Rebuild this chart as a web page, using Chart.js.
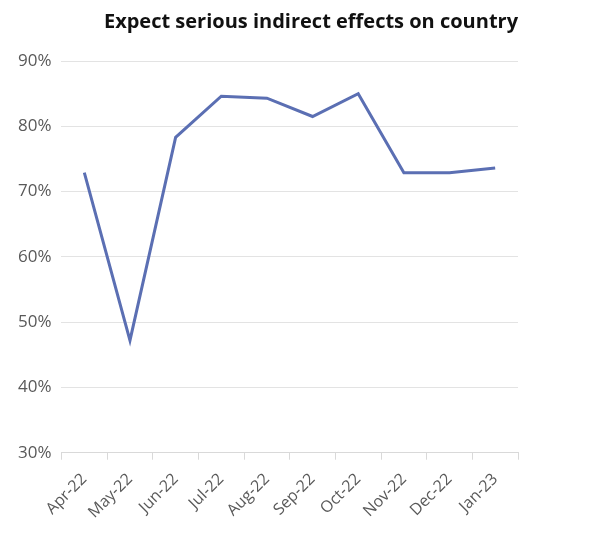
<!DOCTYPE html>
<html>
<head>
<meta charset="utf-8">
<script src="https://cdn.jsdelivr.net/npm/chart.js@4"></script>
<style>
  html, body { margin: 0; padding: 0; background: #fff; }
  #wrap { width: 614px; height: 536px; }
</style>
</head>
<body>
<div id="wrap"><canvas id="chart"></canvas></div>
<script>
const months = ['Apr-22', 'May-22', 'Jun-22', 'Jul-22', 'Aug-22', 'Sep-22', 'Oct-22', 'Nov-22', 'Dec-22', 'Jan-23'];
const seriousEffects = [72.9, 47.2, 78.3, 84.6, 84.3, 81.5, 85.0, 72.9, 72.9, 73.6];
const yTicks = [30, 40, 50, 60, 70, 80, 90];

const fontFamily = "'Open Sans', 'Liberation Sans', sans-serif";

new Chart(document.getElementById('chart'), {
    type: 'line',
    data: {
        labels: months,
        datasets: [{
            label: 'Expect serious indirect effects on country',
            data: seriousEffects,
            borderColor: '#5b6fb3',
            borderWidth: 3,
            pointRadius: 0,
            tension: 0,
            fill: false
        }]
    },
    options: {
        responsive: true,
        maintainAspectRatio: false,
        animation: false,
        layout: {
            padding: { left: 8, right: 0, top: 2, bottom: 4 }
        },
        plugins: {
            legend: { display: false },
            tooltip: { enabled: false },
            title: {
                display: true,
                text: 'Expect serious indirect effects on country',
                color: '#111',
                font: { family: fontFamily, size: 20, weight: 'bold' },
                padding: { top: 8, bottom: 27 }
            }
        },
        scales: {
            x: {
                offset: true,
                grid: {
                    offset: true,
                    drawOnChartArea: false,
                    drawTicks: true,
                    tickLength: 7,
                    color: '#d9d9d9'
                },
                border: { display: true, color: '#d9d9d9', width: 1 },
                ticks: {
                    color: '#595959',
                    font: { family: fontFamily, size: 16 },
                    maxRotation: 45,
                    minRotation: 45,
                    padding: 10
                }
            },
            y: {
                min: 30,
                max: 90,
                afterBuildTicks: axis => {
                    axis.ticks = yTicks.map(v => ({ value: v }));
                },
                grid: {
                    color: '#e3e3e3',
                    drawTicks: false
                },
                border: { display: false },
                ticks: {
                    color: '#595959',
                    font: { family: fontFamily, size: 17 },
                    padding: 10,
                    callback: v => v + '%'
                }
            },
            // empty right-hand axis, only to keep the right margin
            spacer: {
                type: 'linear',
                position: 'right',
                display: true,
                grid: { display: false },
                border: { display: false },
                ticks: { display: false },
                afterFit: axis => { axis.width = 96; }
            }
        }
    }
});
</script>
</body>
</html>
